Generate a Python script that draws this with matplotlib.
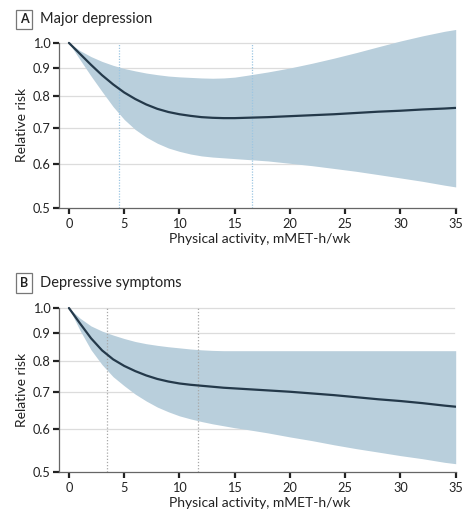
import matplotlib
matplotlib.use("Agg")
import matplotlib.pyplot as plt
from matplotlib import font_manager

# ---------------- data ----------------
x_a = [0, 1, 2, 3, 4, 5, 6, 7, 8, 9, 10, 11, 12, 13, 14, 15, 16, 18, 20, 22, 24, 26,
       28, 30, 32, 34, 35]
rr_a = [1.0, 0.955, 0.912, 0.873, 0.84, 0.812, 0.79, 0.772, 0.758, 0.748, 0.741, 0.736,
        0.732, 0.730, 0.729, 0.729, 0.730, 0.732, 0.735, 0.738, 0.741, 0.745, 0.749,
        0.752, 0.756, 0.759, 0.761]
upper_a = [1.0, 0.968, 0.944, 0.925, 0.91, 0.898, 0.889, 0.881, 0.875, 0.87, 0.867,
           0.865, 0.863, 0.862, 0.863, 0.866, 0.872, 0.885, 0.9, 0.918, 0.938, 0.96,
           0.984, 1.008, 1.03, 1.05, 1.058]
lower_a = [1.0, 0.932, 0.87, 0.815, 0.765, 0.725, 0.695, 0.673, 0.656, 0.643, 0.634,
           0.627, 0.622, 0.619, 0.617, 0.615, 0.613, 0.609, 0.603, 0.597, 0.590, 0.583,
           0.575, 0.567, 0.559, 0.55, 0.546]
vlines_a = [4.5, 16.6]

x_b = [0, 1, 2, 3, 4, 5, 6, 7, 8, 9, 10, 11, 12, 13, 14, 15, 16, 18, 20, 22, 24, 26,
       28, 30, 32, 34, 35]
rr_b = [1.0, 0.937, 0.88, 0.836, 0.805, 0.783, 0.766, 0.752, 0.741, 0.733, 0.727, 0.723,
        0.72, 0.717, 0.714, 0.712, 0.71, 0.706, 0.702, 0.697, 0.692, 0.686, 0.68, 0.675,
        0.669, 0.662, 0.659]
upper_b = [1.0, 0.958, 0.927, 0.907, 0.892, 0.879, 0.868, 0.86, 0.854, 0.849, 0.845,
           0.841, 0.838, 0.836, 0.835, 0.835, 0.835, 0.835, 0.835, 0.835, 0.835, 0.835,
           0.835, 0.835, 0.835, 0.835, 0.835]
lower_b = [1.0, 0.91, 0.838, 0.787, 0.748, 0.72, 0.695, 0.675, 0.658, 0.645, 0.634,
           0.626, 0.619, 0.613, 0.608, 0.603, 0.599, 0.59, 0.58, 0.571, 0.561, 0.552,
           0.544, 0.536, 0.529, 0.521, 0.518]
vlines_b = [3.4, 11.7]

panel_letters = ["A", "B"]
panel_titles = ["Major depression", "Depressive symptoms"]
x_ticks = [0, 5, 10, 15, 20, 25, 30, 35]
y_ticks = [0.5, 0.6, 0.7, 0.8, 0.9, 1.0]
y_ticklabels = ["0.5", "0.6", "0.7", "0.8", "0.9", "1.0"]
x_label = "Physical activity, mMET-h/wk"
y_label = "Relative risk"

# ---------------- style ----------------
avail = {f.name for f in font_manager.fontManager.ttflist}
fam = "Liberation Sans Narrow" if "Liberation Sans Narrow" in avail else "Lato"
plt.rcParams["font.family"] = [fam, "DejaVu Sans"]

FILL = "#b9cfdc"
LINE = "#24394a"
GRID = "#dcdcdc"
TXT = "#222222"
SPINE = "#666666"

fig = plt.figure(figsize=(4.63, 5.12), dpi=100)

axes_pos = [[0.1274, 0.594, 0.858, 0.358], [0.1274, 0.078, 0.858, 0.356]]
data = [(x_a, rr_a, upper_a, lower_a, vlines_a, "#9cc6e2", (0, (1, 1.2))),
        (x_b, rr_b, upper_b, lower_b, vlines_b, "#a8a8a8", (0, (1, 1.5)))]
title_y = [0.962, 0.447]
ylabel_y = [0.756, 0.238]
xlabel_y = [0.533, 0.018]

for i, pos in enumerate(axes_pos):
    ax = fig.add_axes(pos)
    xs, rr, up, lo, vl, vcol, vls = data[i]
    ax.set_yscale("log")
    ax.set_xlim(-0.9, 35.05)
    ax.set_ylim(0.5, 1.08)
    for yt in y_ticks[1:]:
        ax.axhline(yt, color=GRID, lw=0.9, zorder=0, xmin=0.0, xmax=0.995)
    ax.fill_between(xs, lo, up, color=FILL, lw=0, zorder=1)
    for v in vl:
        ax.plot([v, v], [0.5, 1.0], color=vcol, lw=0.9, ls=vls, zorder=2)
    ax.plot(xs, rr, color=LINE, lw=1.6, zorder=3, solid_capstyle="round",
            solid_joinstyle="round")

    ax.set_yticks(y_ticks)
    ax.set_yticklabels(y_ticklabels)
    ax.yaxis.set_minor_locator(matplotlib.ticker.NullLocator())
    ax.set_xticks(x_ticks)
    ax.set_xticklabels([str(t) for t in x_ticks])
    ax.tick_params(axis="both", colors=TXT, labelsize=9.2, width=1.6, length=4, pad=2)
    ax.tick_params(axis="x", direction="out", length=4, pad=3)

    for s in ["top", "right"]:
        ax.spines[s].set_visible(False)
    for s in ["left", "bottom"]:
        ax.spines[s].set_color(SPINE)
        ax.spines[s].set_linewidth(0.9)
    ax.spines["left"].set_bounds(0.5, 1.0)
    ax.patch.set_alpha(0)

    fig.text(0.052, title_y[i], panel_letters[i], ha="center", va="center",
             fontsize=9, color=TXT, fontweight="bold",
             bbox=dict(boxstyle="square,pad=0.3", fc="white", ec="#777777", lw=0.9))
    fig.text(0.087, title_y[i], panel_titles[i], ha="left", va="center",
             fontsize=10.5, color=TXT)
    fig.text(0.048, ylabel_y[i], y_label, rotation=90, ha="center", va="center",
             fontsize=10, color=TXT)
    fig.text(0.56, xlabel_y[i], x_label, ha="center", va="center",
             fontsize=10, color=TXT)

fig.savefig("out.png", dpi=100, facecolor="white")
